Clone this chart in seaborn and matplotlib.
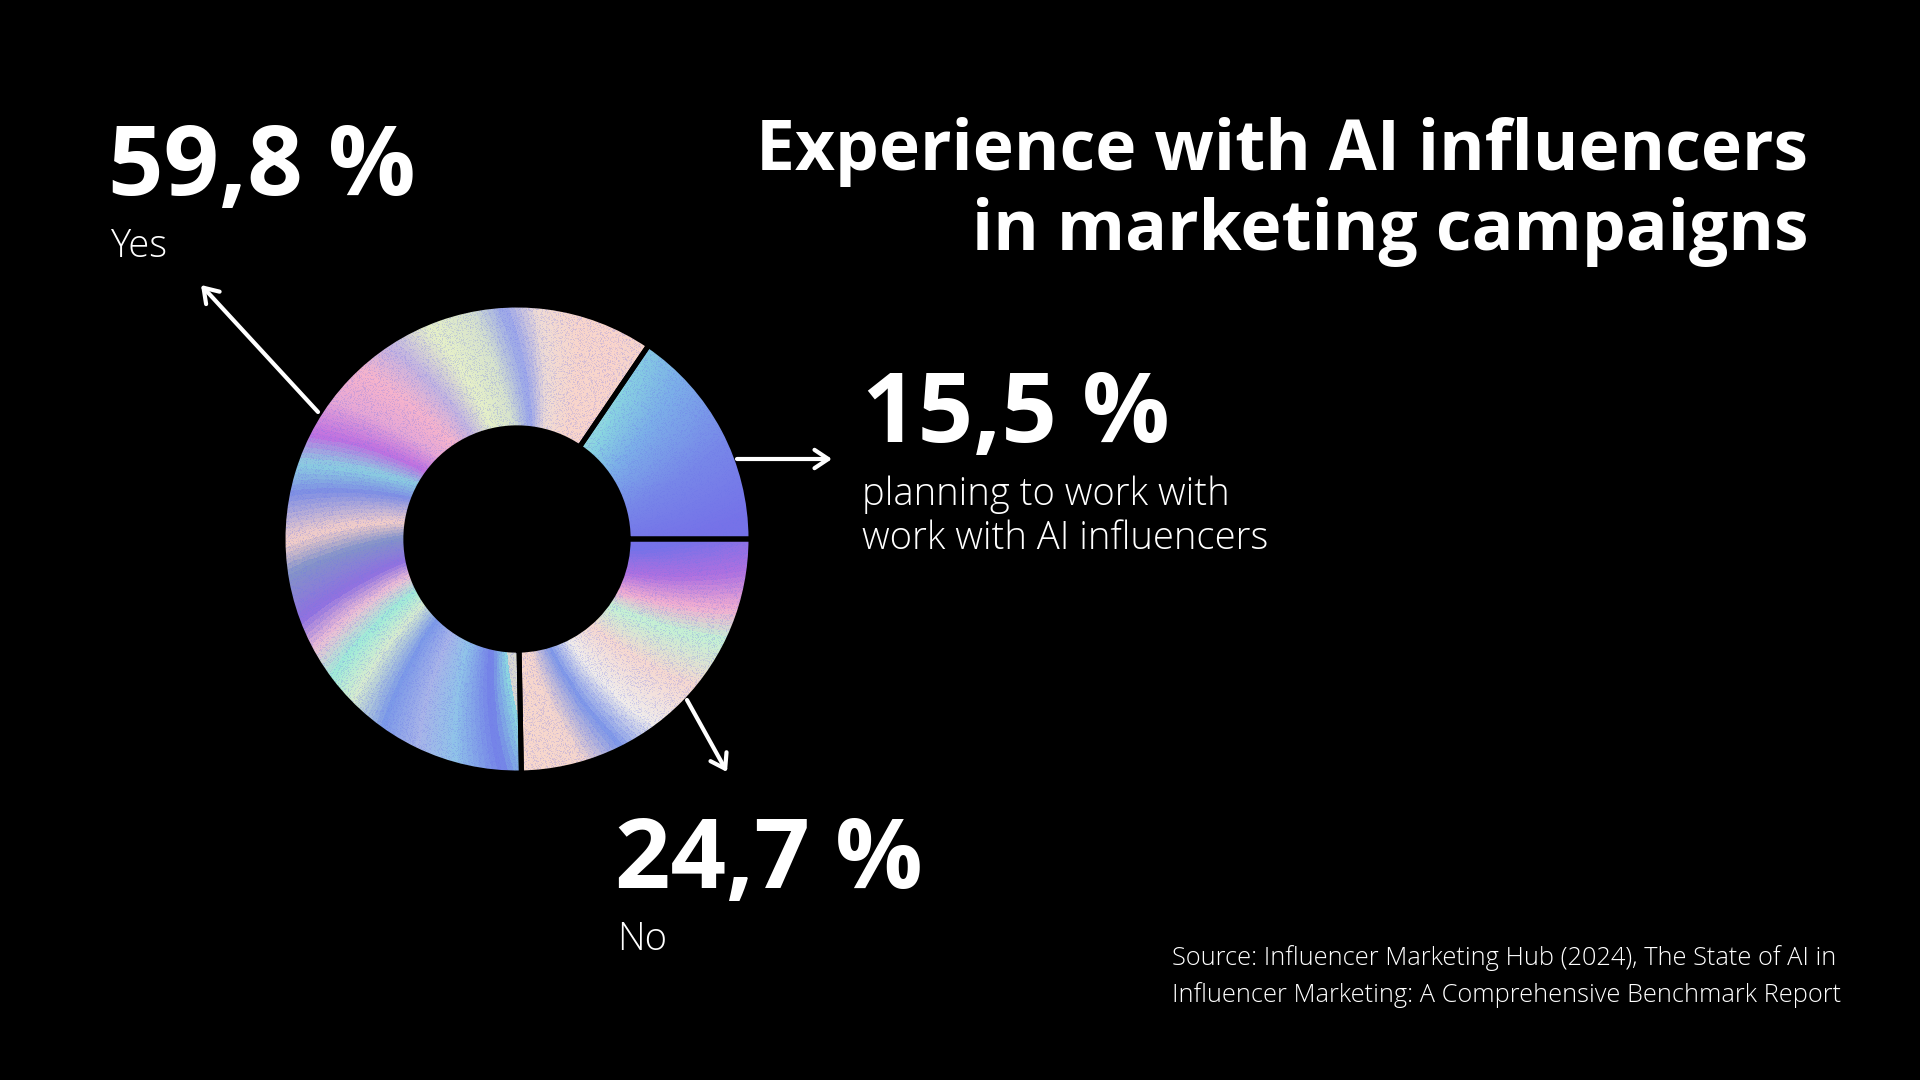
import numpy as np
import pandas as pd
import matplotlib
matplotlib.use("Agg")
import matplotlib.pyplot as plt
import seaborn as sns
from matplotlib.colors import LinearSegmentedColormap

# ---------------- data ----------------
categories = ["Planning", "Yes", "No"]
shares = [15.5, 59.8, 24.7]
value_labels = ["15,5 %", "59,8 %", "24,7 %"]
desc_labels = [["planning to work with", "work with AI influencers"], ["Yes"], ["No"]]
title_lines = ["Experience with AI influencers", "in marketing campaigns"]
source_lines = ["Source: Influencer Marketing Hub (2024), The State of AI in",
                "Influencer Marketing: A Comprehensive Benchmark Report"]

df = pd.DataFrame({"category": categories, "share": shares})

# ---------------- style ----------------
sns.set_theme(style="dark", rc={"figure.facecolor": "black", "axes.facecolor": "black",
                                "savefig.facecolor": "black"})
plt.rcParams["font.family"] = ["Open Sans", "DejaVu Sans"]

W, H = 1920, 1080
fig = plt.figure(figsize=(19.2, 10.8), dpi=100)
ax = fig.add_axes([0, 0, 1, 1])

def Y(y):
    return H - y

# donut geometry (pixels)
CX, CY, R = 517, Y(539), 234
RING = R * 0.525

wedges, _ = ax.pie(df["share"], startangle=0, counterclock=True, radius=R, center=(CX, CY),
                   colors=["none"] * len(df),
                   wedgeprops=dict(width=RING, edgecolor="black", linewidth=3.6, zorder=3))

# iridescent conic gradient (styling)
stops = [(0, "#7672e8"), (20, "#7888e8"), (40, "#7cb0e8"), (55, "#8ad8e0"),
         (56.5, "#fad4cb"), (70, "#f8d6cc"), (80, "#f0dcd4"), (88, "#9aa6ea"),
         (97, "#d8e4cc"), (108, "#e6f0c8"), (118, "#c4b4e0"), (128, "#f6b4cc"),
         (138, "#e8a8d4"), (148, "#c070e0"), (156, "#8cd0e0"), (164, "#8090e4"),
         (176, "#f6d0c8"), (184, "#8494c8"), (196, "#9070e0"), (204, "#f0c0d4"),
         (212, "#a0ecd8"), (220, "#d8eccf"), (230, "#7c9ae8"), (240, "#a8b4e8"),
         (250, "#90c4e8"), (262, "#7480e8"), (270, "#8edce0"), (271.5, "#f8d8cc"),
         (282, "#f6d6cc"), (292, "#7e98e8"), (302, "#f0ecea"), (316, "#f6d8d0"),
         (330, "#c4f2d4"), (338, "#f4b0d0"), (348, "#b070e0"), (360, "#7672e8")]
cmap = LinearSegmentedColormap.from_list("irid", [(a / 360.0, c) for a, c in stops])

N = 480
xs = np.linspace(CX - R, CX + R, N)
ys = np.linspace(CY - R, CY + R, N)
XX, YY = np.meshgrid(xs, ys)
rr = np.hypot(XX - CX, YY - CY)
th = np.degrees(np.arctan2(YY - CY, XX - CX)) % 360
rmid = R - RING / 2

# deterministic grain texture (integer hash)
ii, jj = np.meshgrid(np.arange(N, dtype=np.uint64), np.arange(N, dtype=np.uint64))
h = (ii * np.uint64(374761393) + jj * np.uint64(668265263)) & np.uint64(0xFFFFFFFF)
h = ((h ^ (h >> np.uint64(13))) * np.uint64(1274126177)) & np.uint64(0xFFFFFFFF)
h = h ^ (h >> np.uint64(16))
grain = (h & np.uint64(0xFFFF)).astype(float) / 65535.0
dots = np.clip((grain - 0.6) / 0.4, 0, 1)
tint = np.array([0.42, 0.45, 0.92])

for w in wedges:
    t1, t2 = w.theta1, w.theta2
    th_w = th.copy()
    if t2 > 360:
        th_w = np.where(th_w < t1 - 1, th_w + 360, th_w)
    th_eff = np.clip(th_w - 10 * (rr - rmid) / RING, t1 + 0.8, t2 - 0.8) % 360
    rgb = cmap(th_eff / 360.0)[..., :3]
    rgb = rgb * (1 - 0.3 * dots[..., None]) + tint * 0.3 * dots[..., None]
    rgb = np.clip(rgb, 0, 1)
    im = ax.imshow(rgb, extent=(CX - R, CX + R, CY - R, CY + R), origin="lower",
                   interpolation="nearest", zorder=2)
    im.set_clip_path(w)

# arrows
arrow_kw = dict(arrowstyle="->,head_length=0.45,head_width=0.3", color="white", lw=3,
                shrinkA=0, shrinkB=0, mutation_scale=22)
ax.annotate("", xy=(201, Y(285)), xytext=(318, Y(412)), arrowprops=arrow_kw, zorder=4)
ax.annotate("", xy=(832, Y(459)), xytext=(737, Y(459)), arrowprops=arrow_kw, zorder=4)
ax.annotate("", xy=(727, Y(772)), xytext=(687, Y(700)), arrowprops=arrow_kw, zorder=4)

# texts
big = dict(color="white", fontsize=70, fontweight="bold", va="baseline", ha="left")
small = dict(color="white", fontsize=27.5, fontweight="light", va="baseline", ha="left")

# Yes
ax.text(108, Y(195), value_labels[1], **big)
ax.text(110, Y(257), desc_labels[1][0], **small)
# Planning
ax.text(862, Y(442), value_labels[0], **big)
ax.text(862, Y(505), desc_labels[0][0], **small)
ax.text(862, Y(549), desc_labels[0][1], **small)
# No
ax.text(615, Y(888), value_labels[2], **big)
ax.text(617, Y(950), desc_labels[2][0], **small)

# title
ax.text(1808, Y(170), title_lines[0], color="white", fontsize=50, fontweight="bold",
        ha="right", va="baseline")
ax.text(1808, Y(250), title_lines[1], color="white", fontsize=50, fontweight="bold",
        ha="right", va="baseline")

# source
ax.text(1172, Y(965), source_lines[0], color="white", fontsize=18.3, fontweight="light",
        ha="left", va="baseline")
ax.text(1172, Y(1002), source_lines[1], color="white", fontsize=18.3, fontweight="light",
        ha="left", va="baseline")

ax.set_xlim(0, W)
ax.set_ylim(0, H)
ax.set_aspect("equal")
ax.axis("off")

fig.savefig("out.png", dpi=100, facecolor="black")
